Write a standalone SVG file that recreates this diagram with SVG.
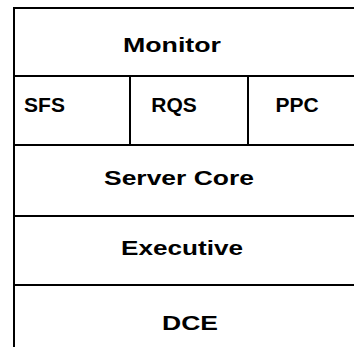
<svg xmlns="http://www.w3.org/2000/svg" width="354" height="347" viewBox="0 0 354 347">
  <style>
    .layer { fill: #ffffff; stroke: #000000; stroke-width: 2; }
    .label { font-family: "Liberation Sans", Arial, sans-serif; font-weight: bold; font-size: 21px; fill: #000000; }
    .mid { text-anchor: middle; }
  </style>
  <rect width="354" height="347" fill="#ffffff"/>
  <!-- layered stack; boxes run past the right and bottom edges of the sheet -->
  <g id="monitor">
    <rect class="layer" x="14" y="8" width="350" height="68"/>
    <text class="label" x="123" y="51.5" textLength="98" lengthAdjust="spacingAndGlyphs">Monitor</text>
  </g>
  <g id="sfs">
    <rect class="layer" x="14" y="76" width="116" height="69"/>
    <text class="label mid" x="44.5" y="112">SFS</text>
  </g>
  <g id="rqs">
    <rect class="layer" x="130" y="76" width="118" height="69"/>
    <text class="label mid" x="174" y="112">RQS</text>
  </g>
  <g id="ppc">
    <rect class="layer" x="248" y="76" width="116" height="69"/>
    <text class="label mid" x="297" y="112">PPC</text>
  </g>
  <g id="server-core">
    <rect class="layer" x="14" y="145" width="350" height="71"/>
    <text class="label" x="104" y="185" textLength="150" lengthAdjust="spacingAndGlyphs">Server Core</text>
  </g>
  <g id="executive">
    <rect class="layer" x="14" y="216" width="350" height="69"/>
    <text class="label" x="121" y="255" textLength="122" lengthAdjust="spacingAndGlyphs">Executive</text>
  </g>
  <g id="dce">
    <rect class="layer" x="14" y="285" width="350" height="70"/>
    <text class="label" x="162" y="330" textLength="56" lengthAdjust="spacingAndGlyphs">DCE</text>
  </g>
  <g id="connectors"/>
</svg>
